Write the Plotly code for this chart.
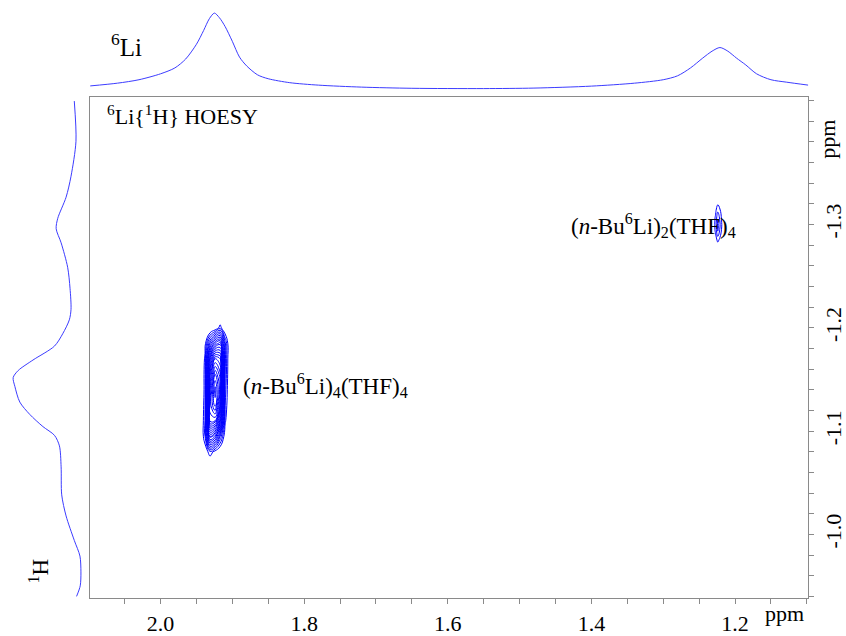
import plotly.graph_objects as go

# ---- 6Li projection (top): chemical shift (ppm) vs relative intensity
li_ppm = [2.098, 2.060, 2.030, 2.000, 1.980, 1.965, 1.950, 1.940, 1.932, 1.925,
          1.918, 1.910, 1.900, 1.890, 1.880, 1.865, 1.850, 1.820, 1.780, 1.720,
          1.650, 1.550, 1.480, 1.400, 1.340, 1.300, 1.280, 1.262, 1.245, 1.232,
          1.221, 1.210, 1.198, 1.185, 1.170, 1.150, 1.128, 1.098]
li_int = [7.7, 10.5, 14, 20, 26, 35, 50, 64, 76, 81.7,
          77, 68, 53, 37, 28, 19, 15, 11, 8.5, 6.5,
          5.3, 5.0, 5.5, 7.5, 10.5, 14, 18, 26, 36, 43,
          46.7, 43, 36, 29, 20, 14, 11.5, 8.5]

# ---- 1H projection (left): chemical shift (ppm) vs relative intensity
h_ppm = [-1.4195, -1.3806, -1.3467, -1.3264, -1.3060, -1.2959, -1.2823, -1.2586,
         -1.2383, -1.2179, -1.2077, -1.1942, -1.1823, -1.1688, -1.1586, -1.1518,
         -1.1433, -1.1281, -1.1162, -1.1044, -1.0959, -1.0857, -1.0654, -1.0383,
         -1.0179, -0.9942, -0.9790, -0.9637, -0.9502, -0.9400]
h_int = [15, 13.3, 18.3, 23.3, 31.7, 33.3, 28.3, 21.7,
         19.3, 18.3, 20, 26.7, 35, 56.7, 71.7, 76.7,
         75, 70, 60, 46.7, 35, 30, 28.3, 27.7,
         23.3, 15, 9.3, 8.3, 9, 12.7]

# ---- HOESY cross peak 1: (n-Bu6Li)4(THF)4
p1_li = [1.945, 1.938, 1.931, 1.924, 1.917, 1.910, 1.903]
p1_h = [-1.215, -1.200, -1.185, -1.170, -1.155, -1.140, -1.125,
        -1.110, -1.095, -1.080, -1.065]
p1_z = [
    [0, 0, 0, 0, 0, 0, 0],
    [0, 0, 0, 3, 10, 2, 0],
    [0, 6, 25, 40, 46, 17, 0],
    [0, 9, 50, 72, 68, 17, 0],
    [0, 10, 66, 88, 78, 16, 0],
    [0, 10, 76, 98, 82, 14, 0],
    [0, 11, 82, 94, 70, 12, 0],
    [0, 12, 78, 76, 50, 9, 0],
    [0, 12, 48, 40, 20, 4, 0],
    [0, 4, 11, 6, 2, 0, 0],
    [0, 0, 0, 0, 0, 0, 0],
]

# ---- HOESY cross peak 2: (n-Bu6Li)2(THF)4
p2_li = [1.232, 1.227, 1.224, 1.221, 1.216]
p2_h = [-1.327, -1.315, -1.305, -1.295, -1.285, -1.275]
p2_z = [
    [0, 0, 0, 0, 0],
    [0, 6, 12, 8, 0],
    [0, 10, 22, 14, 0],
    [0, 10, 24, 14, 0],
    [0, 5, 10, 6, 0],
    [0, 0, 0, 0, 0],
]

x_tick_vals = [2.0, 1.8, 1.6, 1.4, 1.2]
x_tick_text = ["2.0", "1.8", "1.6", "1.4", "1.2"]
y_tick_vals = [-1.3, -1.2, -1.1, -1.0]
y_tick_text = ["-1.3", "-1.2", "-1.1", "-1.0"]

W, H = 846, 636
FONT = "Liberation Serif"
GRAY = "#8a8a8a"
PROJ = "rgb(60,60,255)"
CONT = "#0000ff"

def px(x):
    return x / W

def py(y):
    return 1 - y / H

fig = go.Figure()

fig.add_trace(go.Scatter(x=li_ppm, y=li_int, mode="lines", xaxis="x", yaxis="y2",
                         line=dict(color=PROJ, width=1, shape="spline", smoothing=0.8),
                         showlegend=False, hoverinfo="skip"))
fig.add_trace(go.Scatter(x=h_int, y=h_ppm, mode="lines", xaxis="x3", yaxis="y",
                         line=dict(color=PROJ, width=1, shape="spline", smoothing=0.8),
                         showlegend=False, hoverinfo="skip"))

blue_scale = [[0, CONT], [1, CONT]]
fig.add_trace(go.Contour(x=p1_li, y=p1_h, z=p1_z, xaxis="x", yaxis="y",
                         contours=dict(coloring="lines", start=8, end=98, size=4),
                         line=dict(width=1, smoothing=1.3), colorscale=blue_scale,
                         showscale=False, hoverinfo="skip"))
fig.add_trace(go.Contour(x=p2_li, y=p2_h, z=p2_z, xaxis="x", yaxis="y",
                         contours=dict(coloring="lines", start=8, end=22, size=7),
                         line=dict(width=1, smoothing=1.3), colorscale=blue_scale,
                         showscale=False, hoverinfo="skip"))

fig.update_layout(
    width=W, height=H,
    margin=dict(l=0, r=0, t=0, b=0),
    paper_bgcolor="white", plot_bgcolor="white",
    font=dict(family=FONT, size=20, color="black"),
    showlegend=False,
    xaxis=dict(domain=[px(91), px(816)], range=[2.098, 1.098], anchor="y",
               showgrid=False, zeroline=False, showline=True, mirror=True,
               linecolor=GRAY, linewidth=1,
               tickmode="array", tickvals=x_tick_vals, ticktext=x_tick_text,
               ticks="outside", ticklen=5, tickcolor=GRAY,
               minor=dict(tickmode="linear", tick0=0, dtick=0.05, ticks="outside",
                          ticklen=5, tickcolor=GRAY, showgrid=False),
               tickfont=dict(family=FONT, size=22)),
    yaxis=dict(domain=[py(608), py(99)], range=[-0.938, -1.423], anchor="x",
               side="right", showgrid=False, zeroline=False, showline=True,
               mirror=True, linecolor=GRAY, linewidth=1,
               tickmode="array", tickvals=y_tick_vals, ticktext=y_tick_text,
               ticks="outside", ticklen=5, tickcolor=GRAY, tickangle=-90,
               minor=dict(tickmode="linear", tick0=0, dtick=0.02, ticks="outside",
                          ticklen=5, tickcolor=GRAY, showgrid=False),
               tickfont=dict(family=FONT, size=22)),
    yaxis2=dict(domain=[py(95), 1], range=[0, 95], anchor="x", visible=False),
    xaxis3=dict(domain=[0, px(90)], range=[90, 0], anchor="y", visible=False),
)

ann = [
    dict(text="<sup>6</sup>Li", x=px(128), y=py(46), size=25),
    dict(text="<sup>6</sup>Li{<sup>1</sup>H} HOESY", x=px(106), y=py(117), size=22, xanchor="left"),
    dict(text="(<i>n</i>-Bu<sup>6</sup>Li)<sub>4</sub>(THF)<sub>4</sub>", x=px(243), y=py(392), size=23, xanchor="left"),
    dict(text="(<i>n</i>-Bu<sup>6</sup>Li)<sub>2</sub>(THF)<sub>4</sub>", x=px(574), y=py(229), size=23, xanchor="left"),
    dict(text="ppm", x=px(792), y=py(623), size=22),
]
for a in ann:
    fig.add_annotation(text=a["text"], xref="paper", yref="paper", x=a["x"], y=a["y"],
                       xanchor=a.get("xanchor", "center"), yanchor="middle",
                       showarrow=False, font=dict(family=FONT, size=a["size"], color="black"))
fig.add_annotation(text="ppm", xref="paper", yref="paper", x=px(836), y=py(142),
                   textangle=-90, xanchor="center", yanchor="middle", showarrow=False,
                   font=dict(family=FONT, size=22, color="black"))
fig.add_annotation(text="<sup>1</sup>H", xref="paper", yref="paper", x=px(40), y=py(580),
                   textangle=-90, xanchor="center", yanchor="middle", showarrow=False,
                   font=dict(family=FONT, size=23, color="black"))

fig.write_html("out.html")
